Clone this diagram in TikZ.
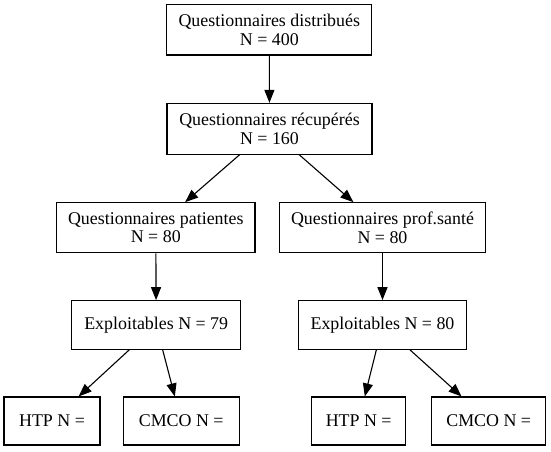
\documentclass[tikz,border=0pt]{standalone}
\usepackage{fontspec}
\setmainfont{Liberation Serif}
\usetikzlibrary{arrows.meta}
\tikzset{
  box/.style={draw, line width=1.1pt, inner sep=0pt, align=center,
    font=\fontsize{17.9}{18.5}\selectfont},
  conn/.style={line width=1.1pt, -{Triangle[length=13pt, width=10pt]}}
}
\begin{document}
\begin{tikzpicture}[x=1pt,y=-1pt]
\useasboundingbox (0,0) rectangle (551,451);
\node[box, minimum width=205pt, minimum height=50.3pt] (n1) at (269.3,29.8) {Questionnaires distribués\\N = 400};
\node[box, minimum width=205pt, minimum height=50.7pt] (n2) at (269.5,128.7) {Questionnaires récupérés\\N = 160};
\node[box, minimum width=198.3pt, minimum height=50pt] (n3) at (155.8,227.7) {Questionnaires patientes\\N = 80};
\node[box, minimum width=206pt, minimum height=50pt] (n4) at (382.5,227.7) {Questionnaires prof.santé\\N = 80};
\node[box, minimum width=169pt, minimum height=48.6pt] (n5) at (156.2,325) {Exploitables N = 79};
\node[box, minimum width=168.4pt, minimum height=48.6pt] (n6) at (382.5,325) {Exploitables N = 80};
\node[box, minimum width=96pt, minimum height=48pt] (n7) at (52,421) {HTP N =};
\node[box, minimum width=115.7pt, minimum height=48pt] (n8) at (181.2,421) {CMCO N =};
\node[box, minimum width=94pt, minimum height=48pt] (n9) at (358.7,421) {HTP N =};
\node[box, minimum width=114pt, minimum height=48pt] (n10) at (488.7,421) {CMCO N =};
\draw[conn] (n1) -- (n2);
\draw[conn] (n2) -- (n3);
\draw[conn] (n2) -- (n4);
\draw[conn] (n3) -- (n5);
\draw[conn] (n4) -- (n6);
\draw[conn] (n5) -- (n7);
\draw[conn] (n5) -- (n8);
\draw[conn] (n6) -- (n9);
\draw[conn] (n6) -- (n10);
\end{tikzpicture}
\end{document}
